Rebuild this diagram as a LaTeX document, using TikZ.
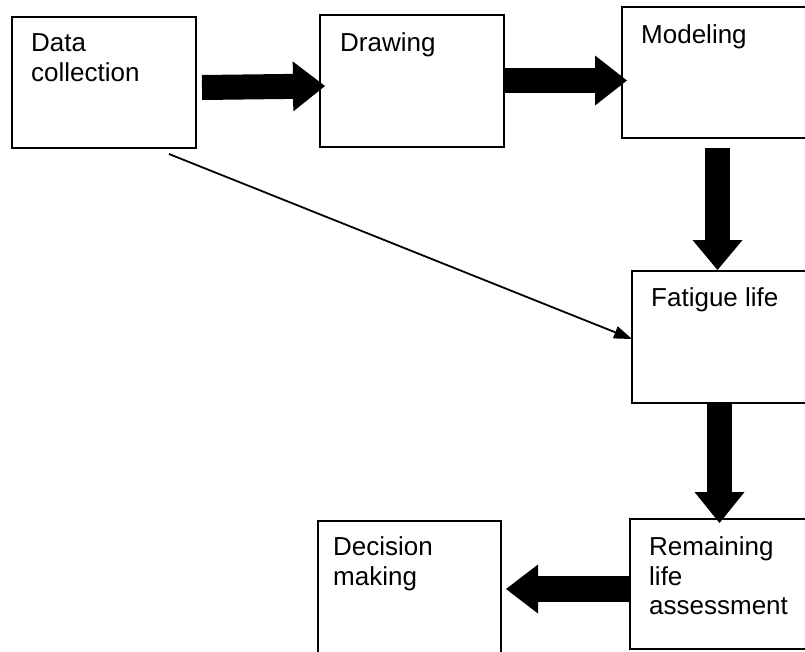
\documentclass[tikz,border=0pt]{standalone}
\usepackage{fontspec}
\setmainfont{Liberation Sans}
\usetikzlibrary{arrows.meta,calc}
\begin{document}
\begin{tikzpicture}[x=1pt,y=-1pt,
  box/.style={draw, line width=2pt, inner sep=0pt, outer sep=0pt},
  lbl/.style={anchor=north west, inner sep=0pt, align=left, font=\fontsize{26}{29.8}\selectfont},
  blockarrow/.style={line width=25pt, -{Triangle[length=32pt,width=50pt,line width=0pt]}},
  thinarrow/.style={line width=1.8pt, -{Triangle[length=18pt,width=13pt,line width=0pt]}}]
\useasboundingbox (0,0) rectangle (805,651);
\clip (0,0) rectangle (805,651);

% boxes
\node[box, minimum width=184pt, minimum height=131pt] (dc) at (104,82.5) {};
\node[box, minimum width=184pt, minimum height=132pt] (dr) at (412,81) {};
\node[box, minimum width=190pt, minimum height=131pt] (mo) at (717,72.5) {};
\node[box, minimum width=180pt, minimum height=132pt] (fa) at (722,337) {};
\node[box, minimum width=182pt, minimum height=130pt] (re) at (721,584) {};
\node[box, minimum width=183pt, minimum height=139pt] (de) at (409.5,590.5) {};

% labels
\node[lbl] (tdc) at (31,33.3) {Data\\collection};
\node[lbl] (tdr) at (340,32.3) {Drawing};
\node[lbl] (tmo) at (641,24.3) {Modeling};
\node[lbl] (tfa) at (651,287.3) {Fatigue life};
\node[lbl] (tre) at (649,536.3) {Remaining\\life\\assessment};
\node[lbl] (tde) at (333,536.3) {Decision\\making};

% block arrows
\draw[blockarrow] ($(dc.east)+(6,5)$) -- ($(dr.west)+(5,5)$);
\draw[blockarrow] ($(dr.east)+(0,-0.5)$) -- ($(mo.west)+(5,8)$);
\draw[blockarrow, -{Triangle[length=30pt,width=50pt,line width=0pt]}]
  ($(mo.south)+(0.5,10)$) -- ($(mo.south |- fa.north)+(0.5,-1)$);
\draw[blockarrow, -{Triangle[length=31pt,width=50pt,line width=0pt]}]
  ($(fa.south)+(-2.5,0)$) -- ($(re.north)+(-1.5,4)$);
\draw[blockarrow, line width=26pt, -{Triangle[length=32pt,width=49pt,line width=0pt]}]
  ($(re.west)+(0,5)$) -- ($(de.east)+(5,-1.5)$);

% thin arrow
\draw[thinarrow] ($(dc.south)+(65,6)$) -- ($(fa.west)+(0,2)$);
\end{tikzpicture}
\end{document}
